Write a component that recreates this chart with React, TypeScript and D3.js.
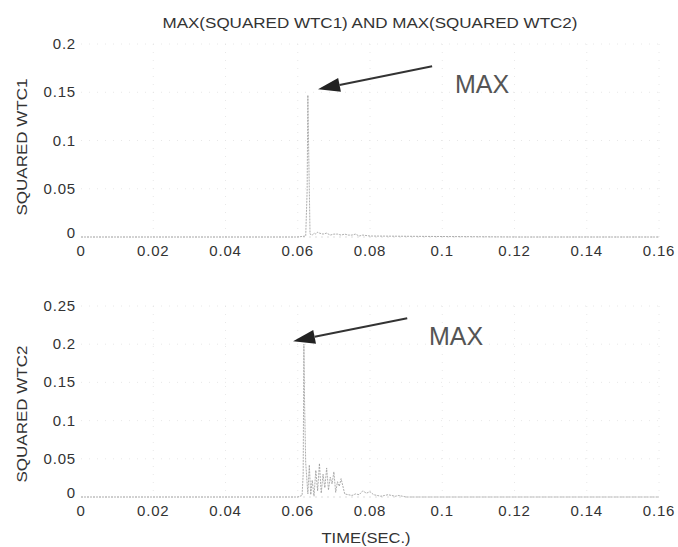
import * as d3 from "d3";

// time axis ticks (seconds)
const timeTicks = [0, 0.02, 0.04, 0.06, 0.08, 0.1, 0.12, 0.14, 0.16];
const wtc1Ticks = [0, 0.05, 0.1, 0.15, 0.2];
const wtc2Ticks = [0, 0.05, 0.1, 0.15, 0.2, 0.25];

// squared WTC1
const wtc1Time = [0, 0.03, 0.06, 0.0622, 0.0626, 0.0628, 0.063, 0.0634, 0.064, 0.0646, 0.065, 0.0655, 0.066, 0.067, 0.068, 0.069, 0.07, 0.071, 0.072, 0.073, 0.074, 0.075, 0.076, 0.077, 0.078, 0.08, 0.12, 0.16];
const wtc1Value = [0, 0, 0, 0.001, 0.048, 0.147, 0.095, 0.003, 0.002, 0.004, 0.003, 0.005, 0.004, 0.003, 0.004, 0.002, 0.003, 0.003, 0.002, 0.003, 0.002, 0.002, 0.003, 0.001, 0.002, 0.001, 0, 0];

// squared WTC2
const wtc2Time = [0, 0.03, 0.06, 0.0612, 0.0615, 0.0617, 0.0619, 0.0622, 0.0628, 0.0632, 0.0636, 0.064, 0.0645, 0.065, 0.0655, 0.066, 0.0665, 0.067, 0.0675, 0.068, 0.0685, 0.069, 0.0695, 0.07, 0.0705, 0.071, 0.0715, 0.072, 0.073, 0.074, 0.075, 0.076, 0.077, 0.078, 0.079, 0.08, 0.081, 0.082, 0.083, 0.084, 0.085, 0.086, 0.087, 0.088, 0.089, 0.09, 0.1, 0.16];
const wtc2Value = [0, 0, 0, 0.002, 0.03, 0.2, 0.12, 0.045, 0.004, 0.042, 0.003, 0.022, 0.001, 0.035, 0.008, 0.044, 0.005, 0.03, 0.012, 0.038, 0.009, 0.026, 0.017, 0.033, 0.006, 0.02, 0.014, 0.024, 0.004, 0.003, 0.002, 0.004, 0.003, 0.008, 0.005, 0.007, 0.003, 0.002, 0.001, 0.002, 0.003, 0.002, 0.001, 0.002, 0.001, 0, 0, 0];

// annotation arrows in data units: [tailT, tailV, tipT, tipV, labelT, labelV]
const maxNote1 = [0.0972, 0.177, 0.0656, 0.153, 0.1035, 0.149];
const maxNote2 = [0.0903, 0.234, 0.0587, 0.204, 0.0963, 0.199];

const W = 678;
const H = 547;
const FONT = "'Liberation Sans', Arial, sans-serif";

const x = d3.scaleLinear().domain([0, 0.16]).range([81, 659]);

type PanelProps = {
  time: number[];
  value: number[];
  ticks: number[];
  yRange: [number, number];
  yMax: number;
  label: string;
  labelY: number;
  note: number[];
};

function Panel({ time, value, ticks, yRange, yMax, label, labelY, note }: PanelProps) {
  const y = d3.scaleLinear().domain([0, yMax]).range(yRange);
  const pts = time.map((t, i) => [t, value[i]] as [number, number]);
  const line = d3
    .line<[number, number]>()
    .x((d) => x(d[0]))
    .y((d) => y(d[1]));

  // arrow geometry
  const [t0, v0, t1, v1, lt, lv] = note;
  const ax0 = x(t0), ay0 = y(v0), ax1 = x(t1), ay1 = y(v1);
  const ang = Math.atan2(ay1 - ay0, ax1 - ax0);
  const headLen = 22;
  const headHalf = 7;
  const bx = ax1 - headLen * Math.cos(ang);
  const by = ay1 - headLen * Math.sin(ang);
  const px = -Math.sin(ang) * headHalf;
  const py = Math.cos(ang) * headHalf;
  const head = `M${ax1},${ay1}L${bx + px},${by + py}L${bx - px},${by - py}Z`;

  const y0 = y(0);
  const yTop = y(yMax);

  return (
    <g>
      {/* faded dotted grid */}
      <g stroke="#e2e2e2" strokeWidth={0.8} strokeDasharray="1,7">
        {timeTicks.slice(1).map((t) => (
          <line key={"gx" + t} x1={x(t)} x2={x(t)} y1={yTop} y2={y0} />
        ))}
        {ticks.slice(1).map((v) => (
          <line key={"gy" + v} x1={x(0)} x2={x(0.16)} y1={y(v)} y2={y(v)} />
        ))}
      </g>
      <line x1={x(0)} x2={x(0.16)} y1={y0} y2={y0} stroke="#d4d4d4" strokeWidth={0.8} strokeDasharray="2,4" />

      <path d={line(pts) ?? ""} fill="none" stroke="#999" strokeWidth={0.8} strokeDasharray="2,1" />

      {/* y ticks */}
      <g fontFamily={FONT} fontSize={15} fill="#333" textAnchor="end" letterSpacing={0.8}>
        {ticks.map((v) => (
          <text key={"ty" + v} x={76} y={y(v) + (v === 0 ? 1 : 5)}>
            {String(v)}
          </text>
        ))}
      </g>
      {/* x ticks */}
      <g fontFamily={FONT} fontSize={15} fill="#333" textAnchor="middle" letterSpacing={0.8}>
        {timeTicks.map((t) => (
          <text key={"tx" + t} x={x(t)} y={y0 + 19}>
            {String(t)}
          </text>
        ))}
      </g>

      <text
        transform={`translate(27,${labelY}) rotate(-90)`}
        textAnchor="middle"
        fontFamily={FONT}
        fontSize={15}
        fill="#333"
        textLength={137}
        lengthAdjust="spacingAndGlyphs"
      >
        {label}
      </text>

      <line x1={ax0} y1={ay0} x2={bx} y2={by} stroke="#333" strokeWidth={2} />
      <path d={head} fill="#222" />
      <text x={x(lt)} y={y(lv)} fontFamily={FONT} fontSize={25} fill="#555">
        MAX
      </text>
    </g>
  );
}

export default function App() {
  return (
    <div style={{ position: "absolute", left: 0, top: 0 }}>
      <svg width={W} height={H} style={{ display: "block", background: "#fff" }}>
        <text
          x={370}
          y={28}
          textAnchor="middle"
          fontFamily={FONT}
          fontSize={14}
          fill="#333"
          textLength={415}
          lengthAdjust="spacingAndGlyphs"
        >
          MAX(SQUARED WTC1) AND MAX(SQUARED WTC2)
        </text>
        <Panel
          time={wtc1Time}
          value={wtc1Value}
          ticks={wtc1Ticks}
          yRange={[237, 44]}
          yMax={0.2}
          label="SQUARED WTC1"
          labelY={147}
          note={maxNote1}
        />
        <Panel
          time={wtc2Time}
          value={wtc2Value}
          ticks={wtc2Ticks}
          yRange={[497, 306]}
          yMax={0.25}
          label="SQUARED WTC2"
          labelY={414}
          note={maxNote2}
        />
        <text x={366} y={543} textAnchor="middle" fontFamily={FONT} fontSize={15} fill="#333" textLength={89} lengthAdjust="spacingAndGlyphs">
          TIME(SEC.)
        </text>
      </svg>
    </div>
  );
}
